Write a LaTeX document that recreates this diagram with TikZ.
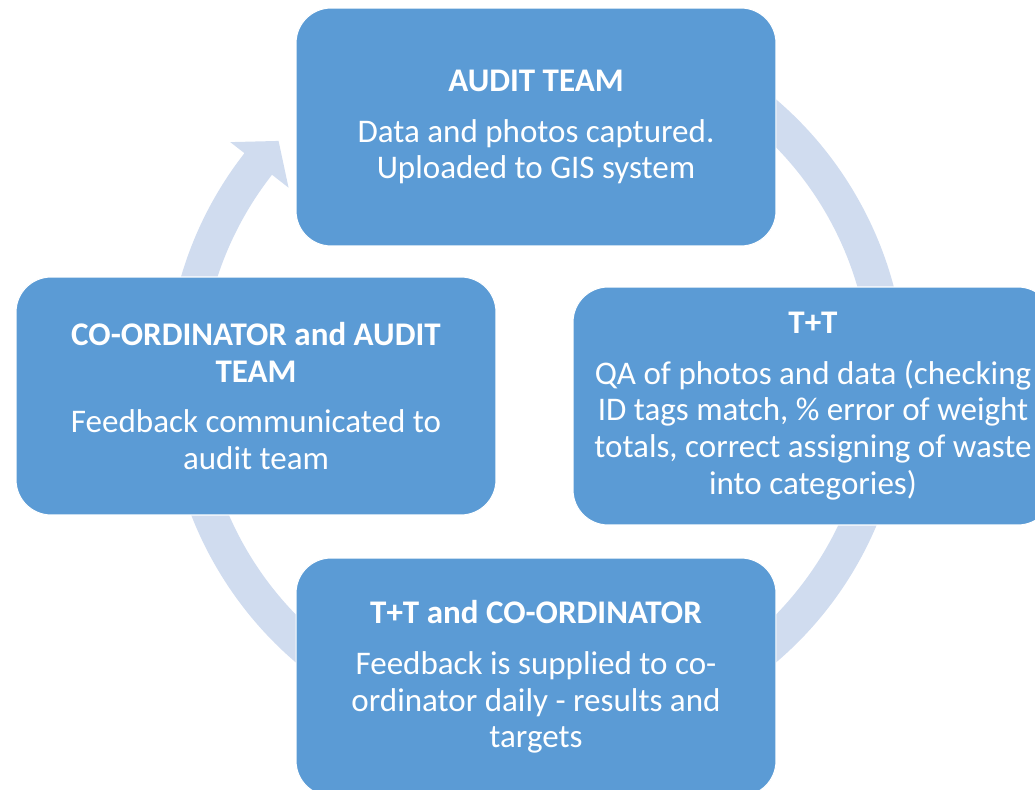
\documentclass[tikz,border=0pt]{standalone}
\usepackage{fontspec}
\setmainfont{Carlito}
\usepackage{tikz}
\definecolor{boxblue}{RGB}{91,155,213}
\definecolor{ringblue}{RGB}{208,220,239}

\begin{document}
\begin{tikzpicture}[x=0.02cm,y=0.02cm]

\tikzset{box/.style = {shape=rectangle,rounded corners=0.7cm,fill=boxblue,draw=white,line width=0.6pt,text=white,align=center,minimum width=9.6cm,minimum height=4.76cm,font=\fontsize{18.8pt}{20.9pt}\selectfont}}
\tikzset{ring/.style = {fill=ringblue}}
\useasboundingbox (0,0) rectangle (1035,-790);
\clip (0,0) rectangle (1035,-790);
%cycle arrow
\fill[ring, shift={(536,-381)}] (120:370) arc[start angle=120, end angle=-218, radius=7.4cm]
  -- (142:388) -- (137:352) -- (142:314) -- (142:335)
  arc[start angle=-218, end angle=120, radius=6.7cm] -- cycle;
%verticies
\node[box] (1) at (536,-127) {\textbf{AUDIT TEAM}\\[8pt]Data and photos captured.\\Uploaded to GIS system};
\node[box] (2) at (813,-406) {\textbf{T+T}\\[8pt]QA of photos and data (checking\\ID tags match, \% error of weight\\totals, correct assigning of waste\\into categories)};
\node[box] (3) at (536,-677) {\textbf{T+T and CO-ORDINATOR}\\[8pt]Feedback is supplied to co-\\ordinator daily - results and\\targets};
\node[box] (4) at (256,-396) {\textbf{CO-ORDINATOR and AUDIT}\\\textbf{TEAM}\\[8pt]Feedback communicated to\\audit team};

\end{tikzpicture}
\end{document}
